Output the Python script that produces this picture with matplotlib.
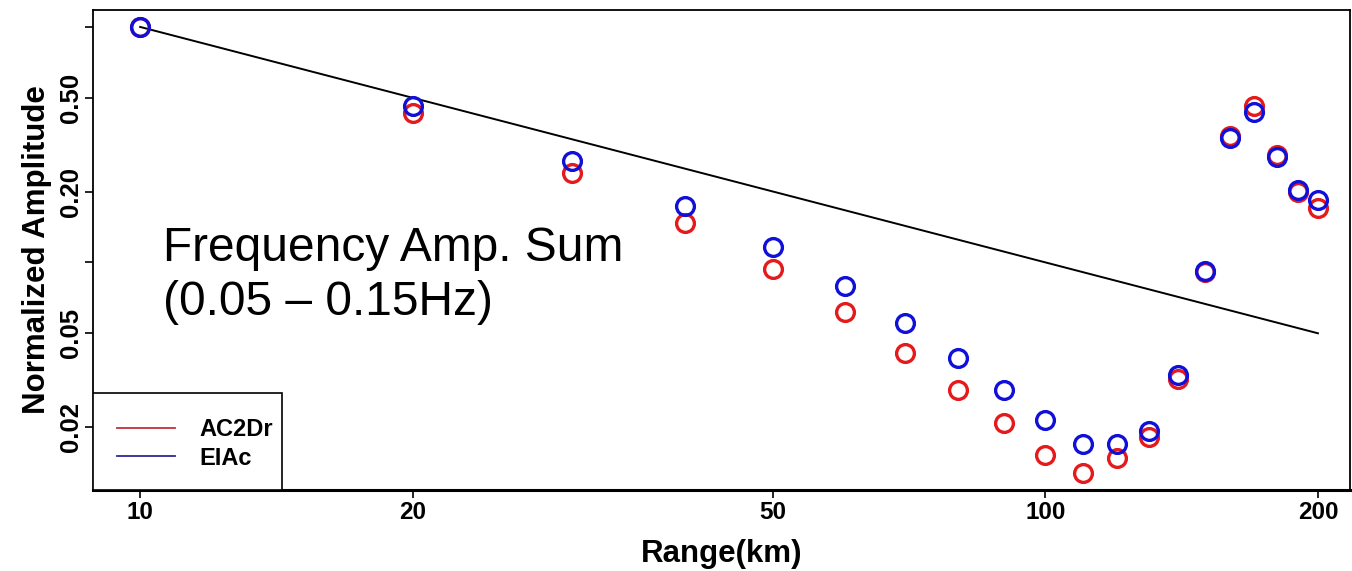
import matplotlib
matplotlib.use("Agg")
import matplotlib.pyplot as plt
from matplotlib.lines import Line2D
from matplotlib.patches import Rectangle
import numpy as np

plt.rcParams['font.family'] = ['Liberation Sans', 'DejaVu Sans']

range_km = [10, 20, 30, 40, 50, 60, 70, 80, 90, 100,
            110, 120, 130, 140, 150, 160, 170, 180, 190, 200]
ac2dr = [1.0, 0.431, 0.239, 0.147, 0.0934, 0.0613, 0.0414, 0.0288, 0.0207, 0.0152,
         0.0128, 0.0148, 0.0182, 0.0321, 0.0910, 0.344, 0.461, 0.285, 0.199, 0.170]
eiac = [1.0, 0.461, 0.269, 0.173, 0.116, 0.0791, 0.0555, 0.0394, 0.0288, 0.0215,
        0.0170, 0.0170, 0.0193, 0.0331, 0.0916, 0.337, 0.435, 0.280, 0.203, 0.184]
ref_x = [10, 200]
ref_y = [1.0, 0.05]   # 1/r reference

xticks = [10, 20, 50, 100, 200]
xticklabels = ['10', '20', '50', '100', '200']
yticks = [0.02, 0.05, 0.1, 0.2, 0.5, 1.0]
yticklabels = ['0.02', '0.05', '', '0.20', '0.50', '']

fig = plt.figure(figsize=(13.52, 5.71), dpi=100)
ax = fig.add_axes([93/1352, 1 - 490/571, (1350-93)/1352, (490-10)/571])

ax.plot(ref_x, ref_y, color='black', lw=1.4, zorder=2)
ax.plot(range_km, ac2dr, 'o', ms=12.8, mfc='none', mec='#e41a1c', mew=2.4, zorder=3)
ax.plot(range_km, eiac, 'o', ms=12.8, mfc='none', mec='#1010d8', mew=2.4, zorder=4)

ax.set_xscale('log')
ax.set_yscale('log')
ax.set_xlim(8.87, 217)
ax.set_ylim(0.0108, 1.18)

ax.set_xticks(xticks)
ax.set_xticklabels(xticklabels, fontsize=17.5, fontweight='bold')
ax.set_yticks(yticks)
ax.set_yticklabels(yticklabels, fontsize=18.5, fontweight='bold', rotation=90, va='center')
ax.minorticks_off()
ax.tick_params(axis='both', direction='out', length=6, width=1.2)
ax.tick_params(axis='x', pad=2)
ax.tick_params(axis='y', pad=1)

for s in ax.spines.values():
    s.set_linewidth(1.3)
ax.spines['bottom'].set_linewidth(2.2)

ax.set_xlabel('Range(km)', fontsize=22.5, fontweight='bold', labelpad=11)
ax.set_ylabel('Normalized Amplitude', fontsize=22.5, fontweight='bold', labelpad=5)

ax.text(0.0555, 0.446, 'Frequency Amp. Sum\n(0.05 \u2013 0.15Hz)',
        transform=ax.transAxes, fontsize=34.5, va='center', ha='left', linespacing=1.26)

# legend: frame drawn as box in the lower-left corner, entries placed inside
ax.add_patch(Rectangle((0, 0), (282-93)/1257, (490-393)/480, transform=ax.transAxes,
                       facecolor='white', edgecolor='black', lw=1.2, zorder=5))
handles = [Line2D([], [], color='#c0303a', lw=1.3),
           Line2D([], [], color='#2a2a9a', lw=1.3)]
leg = ax.legend(handles, ['AC2Dr', 'EIAc'], loc='center left',
                bbox_to_anchor=((117-93)/1257, (490-444)/480),
                prop={'weight': 'bold', 'size': 17}, frameon=False,
                borderaxespad=0, borderpad=0, handlelength=2.46, handletextpad=1.02,
                labelspacing=0.22)
leg.set_zorder(6)

fig.savefig('out.png', dpi=100)
